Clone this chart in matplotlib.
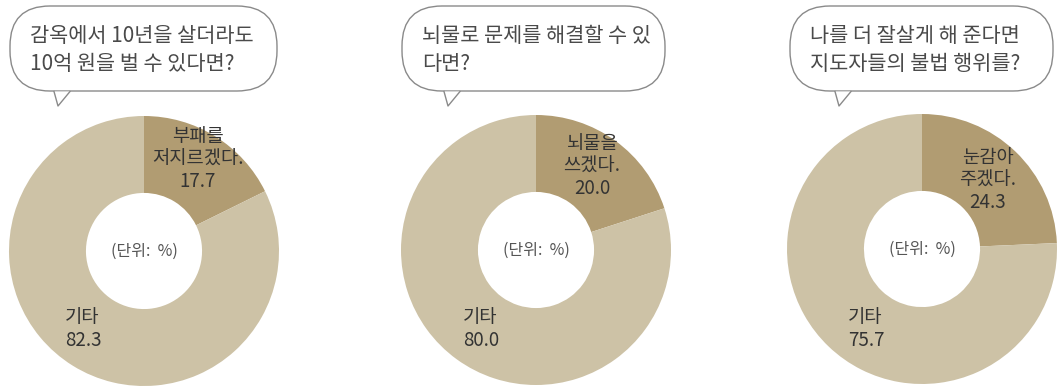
import matplotlib.pyplot as plt
from matplotlib.patches import FancyBboxPatch, Polygon

plt.rcParams['font.family'] = ['Noto Sans CJK KR', 'DejaVu Sans']

questions = ['감옥에서 10년을 살더라도\n10억 원을 벌 수 있다면?',
             '뇌물로 문제를 해결할 수 있\n다면?',
             '나를 더 잘살게 해 준다면\n지도자들의 불법 행위를?']
answers = ['부패를\n저지르겠다.', '뇌물을\n쓰겠다.', '눈감아\n주겠다.']
yes_values = [17.7, 20.0, 24.3]
other_values = [82.3, 80.0, 75.7]
other_label = '기타'
unit_label = '(단위:  %)'

dark = '#b19c72'
light = '#cdc2a6'

W, H = 1057, 388
fig = plt.figure(figsize=(W / 100, H / 100), dpi=100)
ax = fig.add_axes([0, 0, 1, 1])

# layout in pixels (x, y from top)
centers = [(144, 251), (536, 250), (922, 249)]
radius = 135
bubbles = [(10, 277, 62), (402, 665, 452), (790, 1053, 843)]
yes_pos = [(198, 159), (592, 166), (988, 180)]
other_pos = [(65, 329), (463, 329), (848, 329)]

for i in range(3):
    cx, cy = centers[i]
    ax.pie([yes_values[i], other_values[i]], colors=[dark, light],
           startangle=90, counterclock=False, radius=radius,
           center=(cx, H - cy), wedgeprops=dict(width=radius * 0.57, linewidth=0))
    ax.text(cx, H - cy, unit_label, ha='center', va='center', fontsize=11.5, color='#555555')
    x, y = yes_pos[i]
    ax.text(x, H - y, f'{answers[i]}\n{yes_values[i]:.1f}', ha='center', va='center',
            fontsize=13.5, color='#333333', linespacing=1.1)
    x, y = other_pos[i]
    ax.text(x, H - y, f'{other_label}\n{other_values[i]:.1f}', ha='left', va='center',
            fontsize=13.5, color='#333333', linespacing=1.1)

    # speech bubble
    left, right, tx = bubbles[i]
    top, bottom = 6, 91
    box = FancyBboxPatch((left + 20, H - bottom + 20), right - left - 40, bottom - top - 40,
                         boxstyle='round,pad=20,rounding_size=40',
                         facecolor='white', edgecolor='#8a8a8a', linewidth=1.0)
    ax.add_patch(box)
    tail = [(tx - 8, H - bottom - 0.5), (tx - 4, H - 106), (tx + 8, H - bottom - 0.5)]
    ax.add_patch(Polygon(tail, closed=True, facecolor='white', edgecolor='none', zorder=3))
    ax.plot([tail[0][0], tail[1][0], tail[2][0]], [tail[0][1], tail[1][1], tail[2][1]],
            color='#8a8a8a', linewidth=1.0, zorder=4)
    ax.text(left + 20, H - 50, questions[i], ha='left', va='center', fontsize=15,
            color='#4a4a4a', linespacing=1.4)

ax.set_xlim(0, W)
ax.set_ylim(0, H)
ax.set_aspect('auto')
ax.axis('off')

fig.savefig('out.png', dpi=100)
